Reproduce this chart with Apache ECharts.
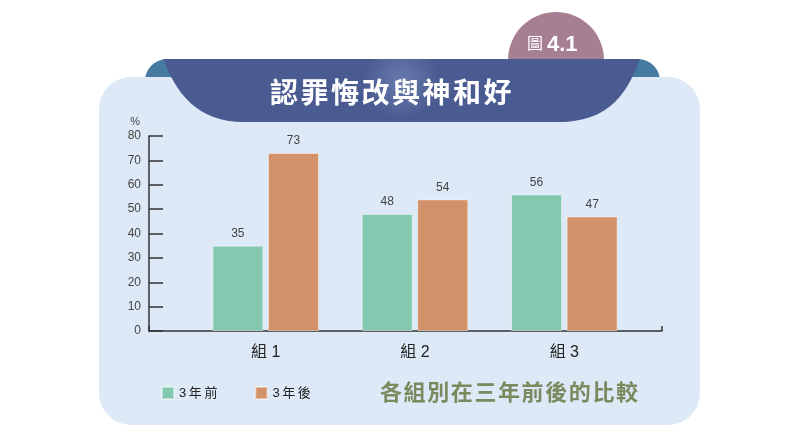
<!DOCTYPE html>
<html>
<head>
<meta charset="utf-8">
<script src="https://cdn.jsdelivr.net/npm/echarts@6/dist/echarts.min.js"></script>
<style>
html, body { margin: 0; padding: 0; background: #fff; }
#chart { width: 800px; height: 436px; }
</style>
</head>
<body>
<div id="chart"></div>
<script>
// data
var groups = ['組 1', '組 2', '組 3']
var before = [35, 48, 56]     // 3年前
var after = [73, 54, 47]      // 3年後
var seriesNames = ['3年前', '3年後']
var yTicks = [0, 10, 20, 30, 40, 50, 60, 70, 80]

var chartTitle = '認罪悔改與神和好'
var subTitle = '各組別在三年前後的比較'
var badgeWord = '圖'
var badgeNum = '4.1'

var FONT = "'Liberation Sans', 'Noto Sans CJK TC', sans-serif"

// ribbon shape under the title
echarts.graphic.registerShape('ribbon', echarts.graphic.extendShape({
    shape: {},
    buildPath: function (ctx) {
        ctx.moveTo(163, 59)
        ctx.lineTo(640, 59)
        ctx.bezierCurveTo(628, 90, 612, 122, 558, 122)
        ctx.lineTo(244, 122)
        ctx.bezierCurveTo(196, 122, 176, 92, 163, 59)
        ctx.closePath()
    }
}))

// spaced-out text, one element per character (letterSpacing is not honoured)
function spacedText(str, x0, pitch, y, font, color) {
    var out = []
    for (var i = 0; i < str.length; i++) {
        out.push({
            type: 'text', z: -4, x: x0 + i * pitch, y: y,
            style: { text: str[i], fill: color, font: font, align: 'left', verticalAlign: 'middle' }
        })
    }
    return out
}

var chart = echarts.init(document.getElementById('chart'))

var graphics = [
    // badge circle behind the ribbon
    { type: 'circle', z: -9, shape: { cx: 556, cy: 60, r: 48 }, style: { fill: '#a77f92' } },
    { type: 'text', z: -8, left: 527, top: 35, style: { text: badgeWord, fill: '#fff', font: '16px "Noto Sans CJK TC"' } },
    { type: 'text', z: -8, left: 547, top: 34, style: { text: badgeNum, fill: '#fff', font: 'bold 22px "Liberation Sans"' } },
    // teal back tab
    { type: 'rect', z: -7, shape: { x: 145, y: 59, width: 515, height: 60, r: 22 }, style: { fill: '#467aa0' } },
    // light panel
    { type: 'rect', z: -6, shape: { x: 99, y: 77, width: 601, height: 348, r: 32 }, style: { fill: '#dde9f7' } },
    // dark ribbon
    {
        type: 'ribbon', z: -5,
        style: {
            fill: {
                type: 'radial', x: 0.5, y: 0.35, r: 0.6,
                colorStops: [{ offset: 0, color: '#6a7cae' }, { offset: 1, color: '#4a5b91' }]
            }
        }
    }
]
graphics = graphics
    .concat(spacedText(chartTitle, 270, 30.5, 92, 'bold 28px "Noto Sans CJK TC"', '#fff'))
    .concat(spacedText(subTitle, 380, 23.6, 392, 'bold 22px "Noto Sans CJK TC"', '#7a8a5f'))

var option = {
    animation: false,
    textStyle: { fontFamily: FONT },
    graphic: graphics,
    legend: {
        data: seriesNames,
        left: 156, top: 381,
        icon: 'rect', itemWidth: 12, itemHeight: 12, itemGap: 37,
        formatter: function (name) { return name.split('').join('\u2009') },
        textStyle: { fontSize: 13, color: '#222', fontFamily: FONT }
    },
    grid: [
        { left: 149, right: 138, top: 136, bottom: 105 },
        { left: 191, right: 161, top: 136, bottom: 105 }
    ],
    xAxis: [
        {
            gridIndex: 0, type: 'value', min: 0, max: 1, interval: 1,
            axisLine: { show: true, lineStyle: { color: '#333', width: 1.5 } },
            axisTick: { show: true, inside: true, length: 5, lineStyle: { color: '#333', width: 1.5 } },
            axisLabel: { show: false }, splitLine: { show: false }
        },
        {
            gridIndex: 1, type: 'category', data: groups,
            axisLine: { show: false }, axisTick: { show: false },
            axisLabel: { fontSize: 16, color: '#222', margin: 14 }
        }
    ],
    yAxis: [
        {
            gridIndex: 0, type: 'value', min: yTicks[0], max: yTicks[yTicks.length - 1], interval: 10,
            name: '%', nameGap: 9,
            nameTextStyle: { color: '#444', fontSize: 11, align: 'right', padding: [0, 9, 0, 0] },
            axisLine: { show: true, lineStyle: { color: '#333', width: 1.5 } },
            axisTick: { show: true, inside: true, length: 14, lineStyle: { color: '#333', width: 1.5 } },
            axisLabel: { fontSize: 12, color: '#444', margin: 8 },
            splitLine: { show: false }
        },
        {
            gridIndex: 1, type: 'value', min: yTicks[0], max: yTicks[yTicks.length - 1],
            show: false, splitLine: { show: false }
        }
    ],
    series: [
        {
            name: seriesNames[0], type: 'bar', xAxisIndex: 1, yAxisIndex: 1,
            data: before, barWidth: 51, barGap: '9%',
            itemStyle: { color: '#82c9b0', borderColor: 'rgba(255,255,255,0.45)', borderWidth: 1 },
            label: { show: true, position: 'top', distance: 6, fontSize: 12, color: '#444' }
        },
        {
            name: seriesNames[1], type: 'bar', xAxisIndex: 1, yAxisIndex: 1,
            data: after, barWidth: 51,
            itemStyle: { color: '#d3916a', borderColor: 'rgba(255,255,255,0.45)', borderWidth: 1 },
            label: { show: true, position: 'top', distance: 6, fontSize: 12, color: '#444' }
        }
    ]
}

chart.setOption(option)
</script>
</body>
</html>
